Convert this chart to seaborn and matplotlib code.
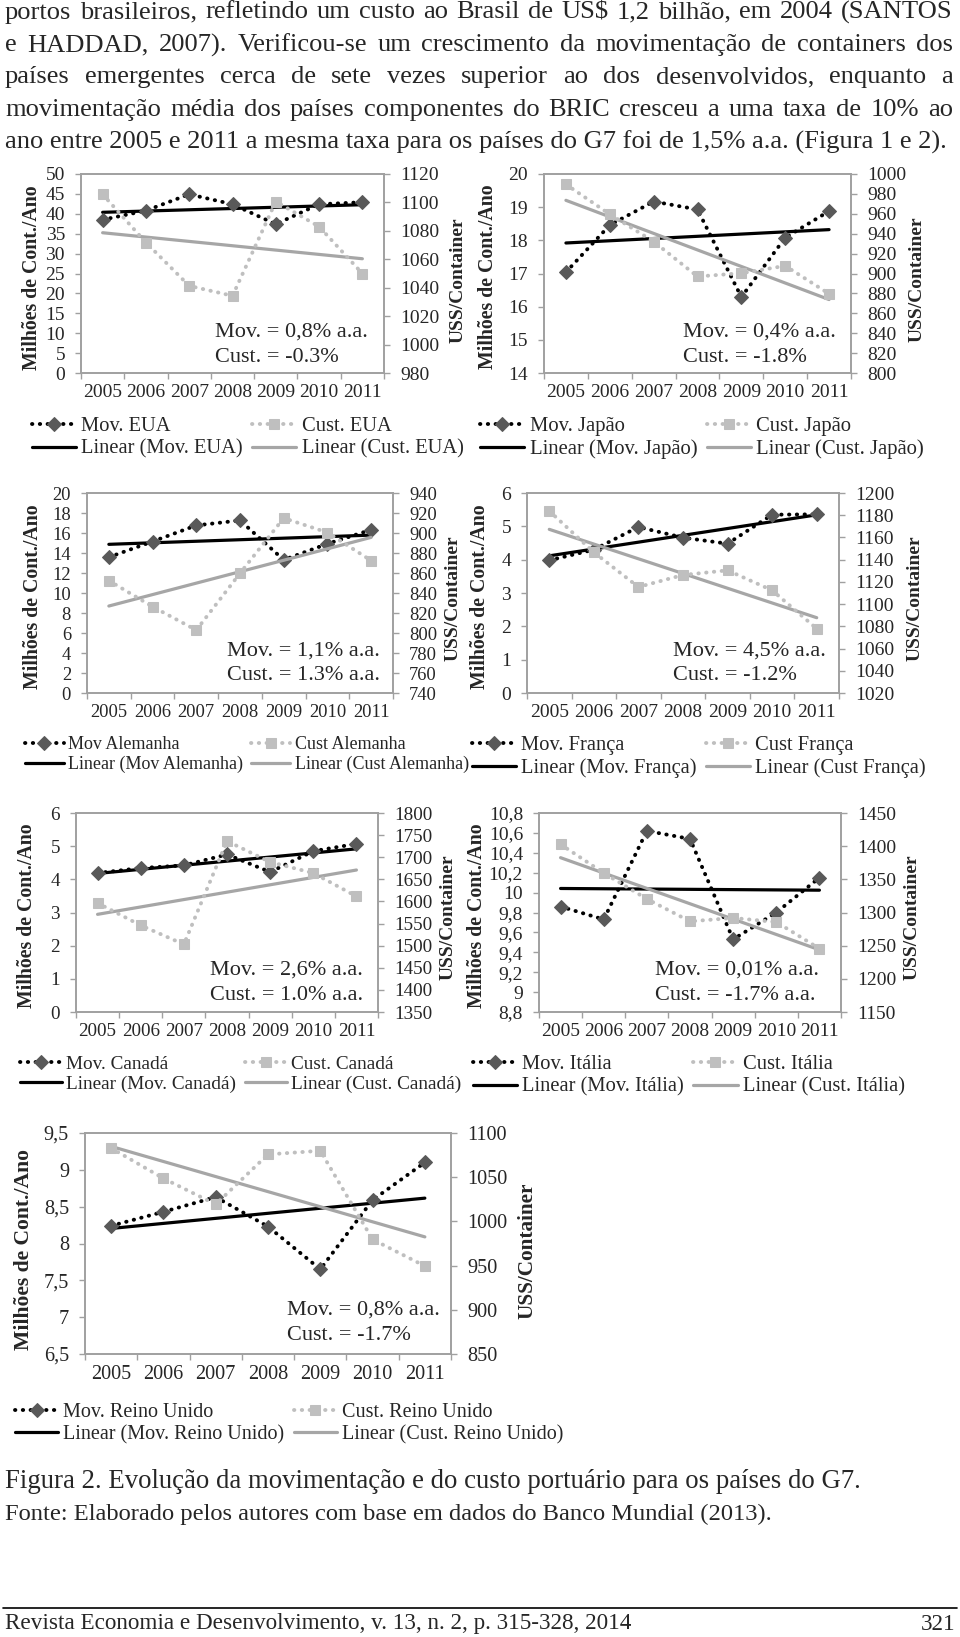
import numpy as np
import matplotlib
matplotlib.use("Agg")
import matplotlib.pyplot as plt
import seaborn as sns
from matplotlib.lines import Line2D
from matplotlib.ticker import FuncFormatter

# Data (category axis 2005..2011)
years = ['2005', '2006', '2007', '2008', '2009', '2010', '2011']

mov_eua = [38.5, 40.8, 44.9, 42.4, 37.4, 42.4, 42.9]
cust_eua = [1105.7, 1071.8, 1041.3, 1034.3, 1100.6, 1083.0, 1050.0]
mov_japao = [17.04, 18.46, 19.17, 18.93, 16.29, 18.08, 18.88]
cust_japao = [989.6, 959.5, 932.1, 897.0, 900.3, 907.7, 879.6]
mov_alemanha = [13.58, 15.15, 16.76, 17.26, 13.31, 14.92, 16.32]
cust_alemanha = [852.4, 826.3, 802.9, 859.7, 914.9, 900.5, 872.4]
mov_franca = [3.98, 4.30, 4.98, 4.66, 4.48, 5.35, 5.36]
cust_franca = [1183.8, 1146.6, 1115.4, 1126.2, 1130.4, 1112.4, 1077.9]
mov_canada = [4.19, 4.34, 4.42, 4.75, 4.22, 4.85, 5.07]
cust_canada = [1596.4, 1546.0, 1503.0, 1736.6, 1689.0, 1664.2, 1611.5]
mov_italia = [9.86, 9.73, 10.62, 10.54, 9.53, 9.80, 10.15]
cust_italia = [1402.8, 1359.5, 1320.4, 1286.7, 1291.7, 1285.7, 1245.5]
mov_reino_unido = [8.24, 8.43, 8.63, 8.23, 7.65, 8.59, 9.10]
cust_reino_unido = [1082.9, 1048.6, 1019.3, 1075.8, 1079.9, 979.6, 949.5]

header_lines = [
    "portos brasileiros, refletindo um custo ao Brasil de US\\$ 1,2 bilhão, em 2004 (SANTOS",
    "e HADDAD, 2007). Verificou-se um crescimento da movimentação de containers dos",
    "países emergentes cerca de sete vezes superior ao dos desenvolvidos, enquanto a",
    "movimentação média dos países componentes do BRIC cresceu a uma taxa de 10% ao",
    "ano entre 2005 e 2011 a mesma taxa para os países do G7 foi de 1,5% a.a. (Figura 1 e 2).",
]
caption = "Figura 2. Evolução da movimentação e do custo portuário para os países do G7."
fonte = "Fonte: Elaborado pelos autores com base em dados do Banco Mundial (2013)."
footer = "Revista Economia e Desenvolvimento, v. 13, n. 2, p. 315-328, 2014"
page_no = "321"

# one entry per country panel
panels = [
    dict(mov=mov_eua, cust=cust_eua, left=(0, 50, 5), right=(980, 1120, 20),
         names=("Mov. EUA", "Cust. EUA", "Linear (Mov. EUA)", "Linear (Cust. EUA)"),
         notes=("Mov. = 0,8% a.a.", "Cust. = -0.3%"),
         box=(81, 174, 384, 373), ylab=(32, 278), rlab=(458, 280), note=(215, 332, 357),
         leg=(32, 425), fs=14, lfs=14.8, yfs=(14.3, 14)),
    dict(mov=mov_japao, cust=cust_japao, left=(14, 20, 1), right=(800, 1000, 20),
         names=("Mov. Japão", "Cust. Japão", "Linear (Mov. Japão)", "Linear (Cust. Japão)"),
         notes=("Mov. = 0,4% a.a.", "Cust. = -1.8%"),
         box=(544, 174, 851, 373), ylab=(488, 277), rlab=(917, 279), note=(683, 332, 357),
         leg=(480, 425), fs=14, lfs=14.9, yfs=(14.3, 14)),
    dict(mov=mov_alemanha, cust=cust_alemanha, left=(0, 20, 2), right=(740, 940, 20),
         names=("Mov Alemanha", "Cust Alemanha", "Linear (Mov Alemanha)", "Linear (Cust Alemanha)"),
         notes=("Mov. = 1,1% a.a.", "Cust. = 1.3% a.a."),
         box=(87, 493, 393, 693), ylab=(33, 597), rlab=(453, 598), note=(227, 651, 676),
         leg=(25, 744), fs=13.3, lfs=13.0, yfs=(14.3, 14)),
    dict(mov=mov_franca, cust=cust_franca, left=(0, 6, 1), right=(1020, 1200, 20),
         names=("Mov. França", "Cust França", "Linear (Mov. França)", "Linear (Cust França)"),
         notes=("Mov. = 4,5% a.a.", "Cust. = -1.2%"),
         box=(527, 493, 839, 693), ylab=(480, 597), rlab=(915, 598), note=(673, 651, 676),
         leg=(472, 744), fs=14, lfs=14.8, yfs=(14.3, 14)),
    dict(mov=mov_canada, cust=cust_canada, left=(0, 6, 1), right=(1350, 1800, 50),
         names=("Mov. Canadá", "Cust. Canadá", "Linear (Mov. Canadá)", "Linear (Cust. Canadá)"),
         notes=("Mov. = 2,6% a.a.", "Cust. = 1.0% a.a."),
         box=(76, 813, 378, 1012), ylab=(27, 916), rlab=(448, 917), note=(210, 970, 995),
         leg=(20, 1063), fs=13.8, lfs=13.9, yfs=(14.3, 14)),
    dict(mov=mov_italia, cust=cust_italia, left=(8.8, 10.8, 0.2), right=(1150, 1450, 50),
         names=("Mov. Itália", "Cust. Itália", "Linear (Mov. Itália)", "Linear (Cust. Itália)"),
         notes=("Mov. = 0,01% a.a.", "Cust. = -1.7% a.a."),
         box=(539, 813, 841, 1012), ylab=(477, 916), rlab=(912, 917), note=(655, 970, 995),
         leg=(473, 1063), fs=14, lfs=14.8, yfs=(14.3, 14)),
    dict(mov=mov_reino_unido, cust=cust_reino_unido, left=(6.5, 9.5, 0.5), right=(850, 1100, 50),
         names=("Mov. Reino Unido", "Cust. Reino Unido", "Linear (Mov. Reino Unido)", "Linear (Cust. Reino Unido)"),
         notes=("Mov. = 0,8% a.a.", "Cust. = -1.7%"),
         box=(85, 1133, 451, 1354), ylab=(24, 1249), rlab=(527, 1251), note=(287, 1310, 1336),
         leg=(15, 1411), fs=14.6, lfs=14.5, yfs=(15.6, 15.3)),
]

sns.set_style("ticks")
SERIF = ['Liberation Serif', 'DejaVu Serif']
plt.rcParams['font.family'] = SERIF
plt.rcParams['axes.unicode_minus'] = False

W, H = 960, 1637
GRAY = '#A0A0A0'
DIAMOND = '#595959'
SQUARE = '#BFBFBF'
TREND_GRAY = '#A6A6A6'
DOTS = (0, (0.1, 1.9))

fig = plt.figure(figsize=(W / 100, H / 100), dpi=100)
renderer = fig.canvas.get_renderer()


def fx(px):
    return px / W


def fy(py):
    return 1 - py / H


def comma_fmt(v, pos):
    return f"{round(v, 3):g}".replace('.', ',')


x_pos = np.arange(len(years))

for p in panels:
    l, t, r, b = p['box']
    ax = fig.add_axes([fx(l), fy(b), (r - l) / W, (b - t) / H])
    ax2 = ax.twinx()

    sns.regplot(x=x_pos, y=np.array(p['mov']), ax=ax, scatter=False, ci=None,
                color='black', line_kws=dict(lw=2.3))
    h_lin_mov = ax.lines[-1]
    sns.lineplot(x=x_pos, y=p['mov'], ax=ax, color='black', linestyle=DOTS, lw=2.8,
                 marker='D', markersize=6.8, markerfacecolor=DIAMOND,
                 markeredgecolor=DIAMOND, dash_capstyle='round', legend=False)
    h_mov = ax.lines[-1]

    sns.regplot(x=x_pos, y=np.array(p['cust']), ax=ax2, scatter=False, ci=None,
                color=TREND_GRAY, line_kws=dict(lw=2.3))
    h_lin_cust = ax2.lines[-1]
    sns.lineplot(x=x_pos, y=p['cust'], ax=ax2, color=SQUARE, linestyle=DOTS, lw=2.8,
                 marker='s', markersize=7.5, markerfacecolor=SQUARE,
                 markeredgecolor=SQUARE, dash_capstyle='round', legend=False)
    h_cust = ax2.lines[-1]

    lo, hi, st = p['left']
    ax.set_ylim(lo, hi)
    ax.set_yticks(np.arange(lo, hi + st / 2, st))
    ax.yaxis.set_major_formatter(FuncFormatter(comma_fmt))
    lo, hi, st = p['right']
    ax2.set_ylim(lo, hi)
    ax2.set_yticks(np.arange(lo, hi + st / 2, st))
    ax2.yaxis.set_major_formatter(FuncFormatter(comma_fmt))

    ax.set_xlim(-0.5, len(years) - 0.5)
    ax.set_xticks(np.arange(-0.5, len(years), 1))
    ax.set_xticklabels([])
    ax.set_xticks(x_pos, minor=True)
    ax.set_xticklabels(years, minor=True)
    ax.tick_params(axis='x', which='major', length=4.5, width=1, color=GRAY)
    ax.tick_params(axis='x', which='minor', length=0, pad=8, labelsize=p['fs'])
    ax.tick_params(axis='y', length=4.5, width=1, color=GRAY, pad=7, labelsize=p['fs'])
    ax2.tick_params(axis='y', length=4.5, width=1, color=GRAY, pad=7, labelsize=p['fs'])
    ax.set_xlabel('')

    for a in (ax, ax2):
        for s in a.spines.values():
            s.set_color(GRAY)
            s.set_linewidth(1.2)

    lfs, rfs = p['yfs']
    ax.set_ylabel('Milhões de Cont./Ano', fontsize=lfs, fontweight='bold', va='center', ha='center')
    ax.yaxis.set_label_coords(fx(p['ylab'][0]), fy(p['ylab'][1]), transform=fig.transFigure)
    ax2.set_ylabel('USS/Container', fontsize=rfs, fontweight='bold', va='center', ha='center')
    ax2.yaxis.set_label_coords(fx(p['rlab'][0]), fy(p['rlab'][1]), transform=fig.transFigure)

    nx, ny1, ny2 = p['note']
    fig.text(fx(nx), fy(ny1), p['notes'][0], fontsize=16, va='center', ha='left')
    fig.text(fx(nx), fy(ny2), p['notes'][1], fontsize=16, va='center', ha='left')

    n_mov, n_cust, n_lmov, n_lcust = p['names']
    lx, ly = p['leg']
    ax2.legend([h_mov, h_lin_mov, h_cust, h_lin_cust], [n_mov, n_lmov, n_cust, n_lcust],
               ncol=2, loc='upper left', bbox_to_anchor=(fx(lx), fy(ly - 8)),
               bbox_transform=fig.transFigure, frameon=False, fontsize=p['lfs'],
               borderpad=0, borderaxespad=0, handlelength=2.15, handletextpad=0.25,
               columnspacing=0.45, labelspacing=0.15, numpoints=1)
    if ax.get_legend() is not None:
        ax.get_legend().remove()


def fit_size(text, target, base=18):
    t = fig.text(0, 0, text, fontsize=base)
    w = t.get_window_extent(renderer).width
    t.remove()
    return base * target / w


# body text above the charts, justified
body_size = fit_size(header_lines[-1], 942)
line_y = [12.5, 45, 77, 110, 142]
for line, y in zip(header_lines, line_y):
    if line is header_lines[-1]:
        fig.text(fx(5), fy(y), line, fontsize=body_size, va='center', ha='left')
        continue
    words = line.split(' ')
    texts = [fig.text(0, fy(y), w, fontsize=body_size, va='center', ha='left') for w in words]
    widths = [tx.get_window_extent(renderer).width for tx in texts]
    gap = (953 - 5 - sum(widths)) / (len(words) - 1)
    x = 5
    for tx, w in zip(texts, widths):
        tx.set_x(fx(x))
        x += w + gap

fig.text(fx(5), fy(1482), caption, fontsize=fit_size(caption, 854), va='center', ha='left')
fig.text(fx(5), fy(1514), fonte, fontsize=fit_size(fonte, 767), va='center', ha='left')
fig.add_artist(Line2D([fx(3), fx(957)], [fy(1608), fy(1608)], color='black', lw=1.2))
foot_size = fit_size(footer, 629)
fig.text(fx(5), fy(1624), footer, fontsize=foot_size, va='center', ha='left')
fig.text(fx(955), fy(1624), page_no, fontsize=foot_size, va='center', ha='right')

fig.savefig("out.png", dpi=100)
